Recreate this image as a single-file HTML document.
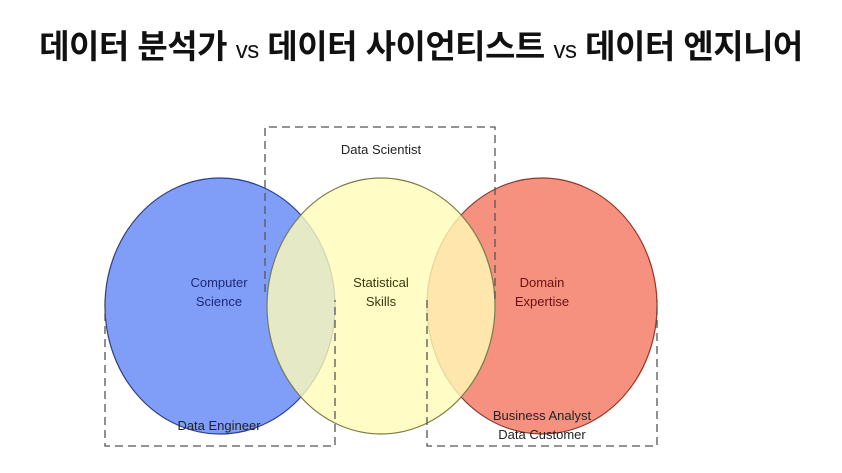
<!DOCTYPE html>
<html><head><meta charset="utf-8"><style>
html,body{margin:0;padding:0;background:#fff;}
body{width:842px;height:473px;overflow:hidden;position:relative;}
.t{position:absolute;left:0;top:20px;width:842px;text-align:center;font-family:"Liberation Sans","Noto Sans CJK KR",sans-serif;font-weight:bold;font-size:33px;color:#111;white-space:nowrap;letter-spacing:-0.5px;}
.t .vs{font-weight:normal;font-size:24px;}
</style></head><body>
<div class="t">데이터 분석가 <span class="vs">vs</span> 데이터 사이언티스트 <span class="vs">vs</span> 데이터 엔지니어</div>
<svg width="842" height="473" style="position:absolute;left:0;top:0" font-family="Liberation Sans, sans-serif" font-size="13" text-anchor="middle">
<ellipse cx="220" cy="306" rx="115" ry="128" fill="#809ef7" stroke="#2b3f8f" stroke-width="1.2"/>
<ellipse cx="542" cy="306" rx="115" ry="128" fill="#f7917f" stroke="#8a3a30" stroke-width="1.2"/>
<ellipse cx="381" cy="306" rx="114" ry="128" fill="#fffbb8" fill-opacity="0.8" stroke="#7d7a45" stroke-width="1.2"/>
<g fill="none" stroke="#555" stroke-width="1.3" stroke-dasharray="8,5">
<path d="M265 292 V127 H495 V300"/>
<path d="M105 300 V446 H335 V300"/>
<path d="M427 300 V446 H657 V300"/>
</g>
<g fill="#222">
<text x="381" y="154">Data Scientist</text>
<text x="219" y="430">Data Engineer</text>
<text x="542" y="420">Business Analyst</text>
<text x="542" y="439">Data Customer</text>
</g>
<g>
<text x="219" y="287" fill="#1c2a7a">Computer</text>
<text x="219" y="306" fill="#1c2a7a">Science</text>
<text x="381" y="287" fill="#3a3a10">Statistical</text>
<text x="381" y="306" fill="#3a3a10">Skills</text>
<text x="542" y="287" fill="#6a1010">Domain</text>
<text x="542" y="306" fill="#6a1010">Expertise</text>
</g>
</svg>
</body></html>
